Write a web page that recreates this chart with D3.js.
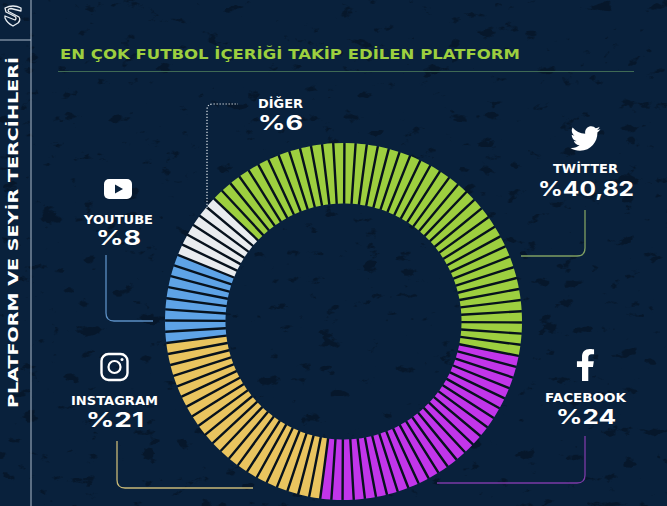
<!DOCTYPE html>
<html lang="tr">
<head>
<meta charset="utf-8">
<script src="https://cdn.jsdelivr.net/npm/d3@7"></script>
<style>
html,body{margin:0;padding:0;background:#09213c;overflow:hidden}
svg{display:block}
text{font-family:"DejaVu Sans",sans-serif;font-weight:700}
</style>
</head>
<body>
<svg id="c" width="667" height="506"></svg>
<script>
const title = "EN ÇOK FUTBOL İÇERİĞİ TAKİP EDİLEN PLATFORM";
const sideTitle = "PLATFORM VE SEYİR TERCİHLERİ";
const platforms = ["TWİTTER","FACEBOOK","INSTAGRAM","YOUTUBE","DİĞER"];
const shares = [40.82,24,21,8,6];
const shareLabels = ["%40,82","%24","%21","%8","%6"];
const barCounts = [41,24,21,8,6];
const colors = ["#9dcf3f","#c235ea","#e9c45f","#5ea3e6","#e9ecef"];

const W=667,H=506,cx=343.5,cy=321.5,R0=118,R1=178.5,startDeg=-46.5;
const svg=d3.select("#c");
const defs=svg.append("defs");
const f=defs.append("filter").attr("id","grain").attr("x",0).attr("y",0).attr("width","100%").attr("height","100%")
  .attr("color-interpolation-filters","sRGB");
f.append("feTurbulence").attr("type","fractalNoise").attr("baseFrequency","0.05 0.08").attr("numOctaves",5).attr("seed",11);
f.append("feColorMatrix").attr("type","matrix").attr("values","0 0 0 0 0.02  0 0 0 0 0.07  0 0 0 0 0.13  9 9 0 0 -11.2");
svg.append("rect").attr("width",W).attr("height",H).attr("fill","#09213c");
svg.append("rect").attr("width",W).attr("height",H).attr("filter","url(#grain)").attr("opacity",.6);

// sidebar
const side=svg.append("g");
side.append("line").attr("x1",31).attr("x2",31).attr("y1",0).attr("y2",H).attr("stroke","#aebccb").attr("stroke-width",1);
side.append("line").attr("x1",0).attr("x2",31).attr("y1",40).attr("y2",40).attr("stroke","#aebccb").attr("stroke-width",1);
side.append("text").attr("transform","translate(18,408) rotate(-90)").attr("fill","#fff")
  .attr("font-size",13.5).attr("textLength",351).attr("lengthAdjust","spacingAndGlyphs").text(sideTitle);
side.append("path").attr("transform","translate(4,5)")
  .attr("d","M1 3 Q9 -1 17 3 L17 6 L7 3.5 Q3 4 4.5 6.5 L15 12 Q17 15 14 18 L9 21 Q3 18 1 13 L1 11 L11 15 Q13 13 11 11.5 L2 7 Z")
  .attr("fill","none").attr("stroke","#e8edf2").attr("stroke-width",1.3).attr("stroke-linejoin","round");

// title
svg.append("text").attr("x",60).attr("y",59).attr("fill","#9dcf3f").attr("font-size",14)
  .attr("textLength",460).attr("lengthAdjust","spacingAndGlyphs").text(title);
svg.append("line").attr("x1",58).attr("x2",634).attr("y1",71.5).attr("y2",71.5).attr("stroke","#3f6a55").attr("stroke-width",1.2);

// ring
const rad=d3.scaleLinear().domain([0,360]).range([0,2*Math.PI]);
const pie=d3.pie().sort(null).startAngle(rad(startDeg)).endAngle(rad(startDeg+360));
const slices=pie(shares);
const ring=svg.append("g").attr("transform",`translate(${cx},${cy})`);
ring.append("path").attr("d",d3.arc().innerRadius(R0+.5).outerRadius(R1-.5).startAngle(0).endAngle(2*Math.PI)()).attr("fill","#07121d");
const arc=d3.arc().innerRadius(R0).outerRadius(R1).padAngle(2.4/150).padRadius(150);
const total=d3.sum(barCounts);
const step=d3.scaleLinear().domain([0,total]).range([rad(startDeg),rad(startDeg+360)]);
const cum=d3.cumsum(barCounts);
slices.forEach((s,i)=>{
  const first=i?cum[i-1]:0;
  const bars=d3.range(barCounts[i]).map(k=>({startAngle:step(first+k),endAngle:step(first+k+1)}));
  ring.append("g").selectAll("path").data(bars).join("path").attr("d",arc).attr("fill",colors[s.index]);
});

// connectors
const links=[
 {d:"M585 210V248Q585 256 577 256H521",c:"#7f9f62"},
 {d:"M585 436V475Q585 483 577 483H437",c:"#7b3aa6"},
 {d:"M117 441V480Q117 488 125 488H253",c:"#c7b877"},
 {d:"M106 255V313Q106 321 114 321H153",c:"#5b8fc4"},
];
svg.append("g").attr("fill","none").selectAll("path").data(links).join("path")
  .attr("d",d=>d.d).attr("stroke",d=>d.c).attr("stroke-width",1.3);
svg.append("path").attr("d","M207 208V110Q207 104 213 104H238").attr("fill","none")
  .attr("stroke","#dfe5ea").attr("stroke-width",1.2).attr("stroke-dasharray","1.3 1.7");

// labels
const nameBox=[[553,173,65],[545,402,81],[71,405,87],[84,224,69],[258,108,45]];
const valBox=[[538,196,96],[556,424,60],[86,427,58],[96,245,45],[258,130,45]];
const lab=svg.append("g").attr("fill","#fff");
platforms.forEach((p,i)=>{
  lab.append("text").attr("x",nameBox[i][0]).attr("y",nameBox[i][1]).attr("font-size",12.5)
    .attr("textLength",nameBox[i][2]).attr("lengthAdjust","spacingAndGlyphs").text(p);
  lab.append("text").attr("x",valBox[i][0]).attr("y",valBox[i][1]).attr("font-size",20)
    .attr("textLength",valBox[i][2]).attr("lengthAdjust","spacingAndGlyphs")
    .style("font-family","Inter, sans-serif").style("font-weight",700).text(shareLabels[i]);
});

// icons
const tw="M459.37 151.716c.325 4.548.325 9.097.325 13.645 0 138.72-105.583 298.558-298.558 298.558-59.452 0-114.68-17.219-161.137-47.106 8.447.974 16.568 1.299 25.34 1.299 49.055 0 94.213-16.568 130.274-44.832-46.132-.975-84.792-31.188-98.112-72.772 6.498.974 12.995 1.624 19.818 1.624 9.421 0 18.843-1.3 27.614-3.573-48.081-9.747-84.143-51.98-84.143-102.985v-1.299c13.969 7.797 30.214 12.67 47.431 13.319-28.264-18.843-46.781-51.005-46.781-87.391 0-19.492 5.197-37.36 14.294-52.954 51.655 63.675 129.3 105.258 216.365 109.807-1.624-7.797-2.599-15.918-2.599-24.04 0-57.828 46.782-104.934 104.934-104.934 30.213 0 57.502 12.67 76.67 33.137 23.715-4.548 46.456-13.32 66.599-25.34-7.798 24.366-24.366 44.833-46.132 57.827 21.117-2.273 41.584-8.122 60.426-16.243-14.292 20.791-32.161 39.308-52.628 54.253z";
const fb="M279.14 288l14.22-92.66h-88.91v-60.13c0-25.35 12.42-50.06 52.24-50.06h40.42V6.26S260.43 0 225.36 0c-73.22 0-121.08 44.38-121.08 124.72v70.62H22.89V288h81.39v224h100.17V288z";
const ic=svg.append("g");
ic.append("path").attr("transform","translate(570.5,123.5) scale(0.0585)").attr("d",tw).attr("fill","#fff");
ic.append("path").attr("transform","translate(575.5,349) scale(0.0625)").attr("d",fb).attr("fill","#fff");
ic.append("rect").attr("x",104).attr("y",179).attr("width",28).attr("height",20).attr("rx",5).attr("fill","#fff");
ic.append("path").attr("d","M115 184.5L115 193.5L123 189Z").attr("fill","#09213c");
ic.append("rect").attr("x",101.5).attr("y",354).attr("width",26).attr("height",26).attr("rx",7).attr("fill","none").attr("stroke","#fff").attr("stroke-width",2.4);
ic.append("circle").attr("cx",114.5).attr("cy",367).attr("r",6).attr("fill","none").attr("stroke","#fff").attr("stroke-width",2.2);
ic.append("circle").attr("cx",122).attr("cy",359.5).attr("r",1.5).attr("fill","#fff");
</script>
</body>
</html>
